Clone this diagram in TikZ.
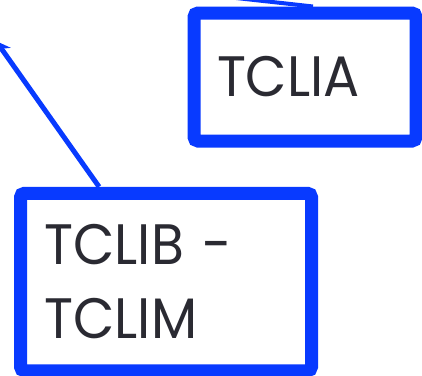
\documentclass[tikz,border=0pt]{standalone}
\usepackage{fontspec}
\setmainfont{Poppins}[FakeStretch=0.94]
\usetikzlibrary{arrows.meta}
\definecolor{boxblue}{RGB}{8,58,255}
\definecolor{txt}{RGB}{42,42,50}
\begin{document}
\begin{tikzpicture}[x=1pt,y=-1pt,
  box/.style={draw=boxblue,line width=13pt,rounded corners=4pt,fill=white,
    text=txt,align=left,inner sep=0pt,
    font=\fontsize{57}{74}\selectfont},
  link/.style={draw=boxblue,line width=5pt},
]
\useasboundingbox (0,0) rectangle (422,375);
\node[box,minimum width=222pt,minimum height=128pt,text width=176pt] (a) at (305,77) {TCLIA};
\node[box,minimum width=291pt,minimum height=177.5pt,text width=243pt] (b) at (166,282) {TCLIB -\\TCLIM};
\coordinate (c1) at (-4,41);
\coordinate (a1) at ([xshift=8pt]a.north);
\coordinate (c2) at (146,-12);
\draw[link,-{Stealth[length=14pt,width=16pt]}] (b) -- (c1);
\draw[link,line width=4pt] (a1) -- (c2);
\end{tikzpicture}
\end{document}
